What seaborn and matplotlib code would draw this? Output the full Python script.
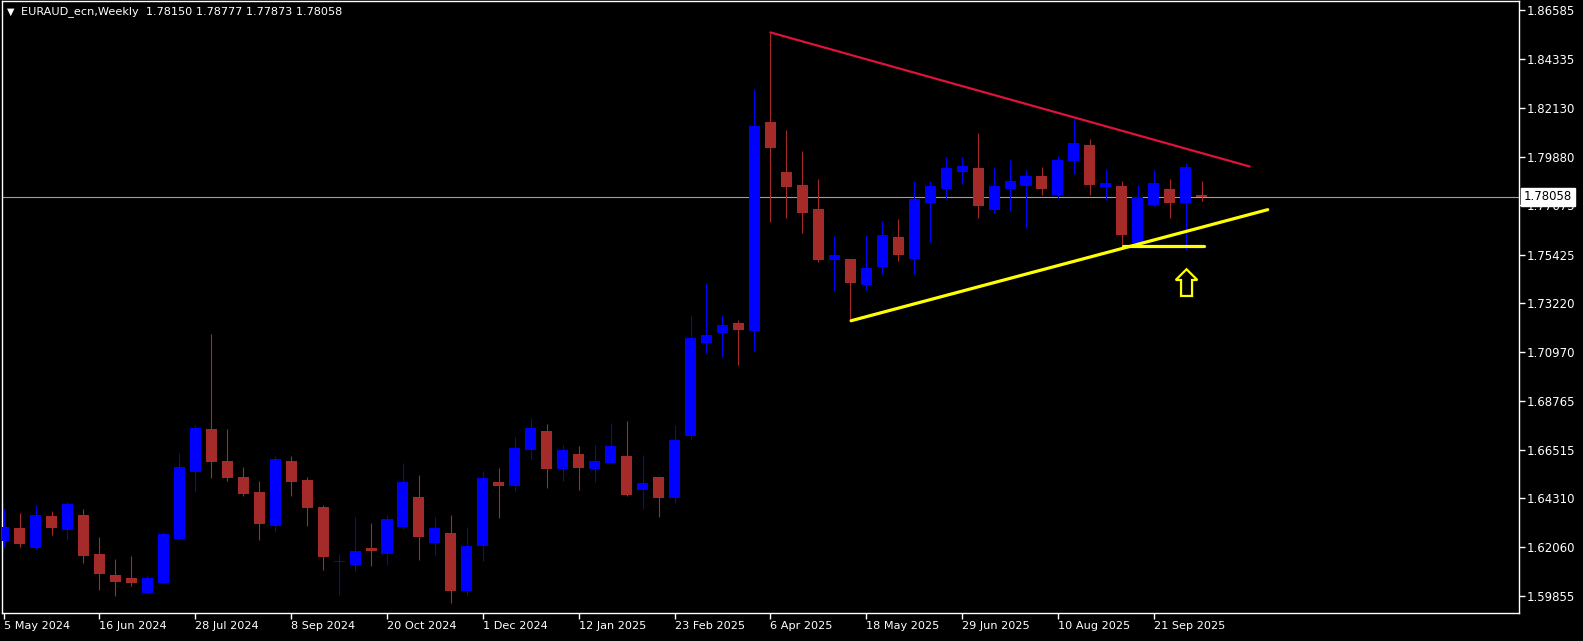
import numpy as np
import pandas as pd
import matplotlib
matplotlib.use("Agg")
import matplotlib.pyplot as plt
import matplotlib.transforms as mtransforms
from matplotlib.patches import Polygon
import seaborn as sns

# EURAUD weekly bars, 5 May 2024 .. 12 Oct 2025
opens = [1.6236, 1.6295, 1.6205, 1.6350, 1.6287, 1.6354, 1.6176, 1.6080, 1.6067, 1.6000,
         1.6045, 1.6245, 1.6552, 1.6747, 1.6601, 1.6528, 1.6459, 1.6306, 1.6601, 1.6514,
         1.6391, 1.6140, 1.6126, 1.6204, 1.6178, 1.6300, 1.6437, 1.6227, 1.6272, 1.6007,
         1.6214, 1.6505, 1.6488, 1.6653, 1.6738, 1.6566, 1.6633, 1.6566, 1.6593, 1.6624,
         1.6470, 1.6528, 1.6433, 1.6716, 1.7141, 1.7187, 1.7229, 1.7195, 1.8148, 1.7920,
         1.7861, 1.7751, 1.7520, 1.7523, 1.7404, 1.7488, 1.7623, 1.7523, 1.7779, 1.7842,
         1.7922, 1.7938, 1.7748, 1.7842, 1.7858, 1.7902, 1.7815, 1.7970, 1.8043, 1.7852,
         1.7856, 1.7596, 1.7769, 1.7842, 1.7779, 1.78150]
highs = [1.6380, 1.6363, 1.6400, 1.6373, 1.6414, 1.6382, 1.6254, 1.6154, 1.6167, 1.6080,
         1.6277, 1.6637, 1.6765, 1.7180, 1.6747, 1.6573, 1.6510, 1.6624, 1.6624, 1.6526,
         1.6400, 1.6176, 1.6345, 1.6318, 1.6354, 1.6592, 1.6537, 1.6345, 1.6354, 1.6300,
         1.6555, 1.6569, 1.6710, 1.6797, 1.6770, 1.6674, 1.6669, 1.6674, 1.6774, 1.6783,
         1.6628, 1.6528, 1.6765, 1.7267, 1.7413, 1.7267, 1.7243, 1.8300, 1.8555, 1.8112,
         1.8016, 1.7888, 1.7628, 1.7523, 1.7632, 1.7696, 1.7705, 1.7879, 1.7879, 1.7988,
         1.7988, 1.8098, 1.7943, 1.7975, 1.7929, 1.7943, 1.7993, 1.8162, 1.8071, 1.7934,
         1.7879, 1.7861, 1.7929, 1.7888, 1.7961, 1.78777]
lows = [1.6210, 1.6210, 1.6199, 1.6263, 1.6242, 1.6137, 1.6014, 1.5986, 1.6032, 1.5999,
        1.6041, 1.6244, 1.6461, 1.6525, 1.6511, 1.6443, 1.6242, 1.6278, 1.6443, 1.6306,
        1.6105, 1.5991, 1.6100, 1.6123, 1.6126, 1.6290, 1.6149, 1.6172, 1.5953, 1.5991,
        1.6144, 1.6342, 1.6465, 1.6611, 1.6479, 1.6511, 1.6470, 1.6506, 1.6593, 1.6443,
        1.6383, 1.6347, 1.6411, 1.6701, 1.7095, 1.7077, 1.7040, 1.7104, 1.7693, 1.7711,
        1.7643, 1.7511, 1.7378, 1.7241, 1.7383, 1.7456, 1.7515, 1.7456, 1.7602, 1.7797,
        1.7867, 1.7712, 1.7734, 1.7744, 1.7666, 1.7817, 1.7801, 1.7911, 1.7815, 1.7794,
        1.7584, 1.7584, 1.7765, 1.7712, 1.7565, 1.77873]
closes = [1.6300, 1.6223, 1.6354, 1.6297, 1.6405, 1.6169, 1.6087, 1.6050, 1.6045, 1.6067,
          1.6268, 1.6573, 1.6753, 1.6598, 1.6525, 1.6452, 1.6315, 1.6610, 1.6506, 1.6388,
          1.6164, 1.6143, 1.6190, 1.6192, 1.6336, 1.6505, 1.6254, 1.6295, 1.6007, 1.6213,
          1.6523, 1.6488, 1.6660, 1.6751, 1.6566, 1.6651, 1.6570, 1.6601, 1.6669, 1.6447,
          1.6500, 1.6433, 1.6697, 1.7162, 1.7174, 1.7220, 1.7200, 1.8130, 1.8031, 1.7853,
          1.7734, 1.7520, 1.7541, 1.7415, 1.7482, 1.7632, 1.7543, 1.7797, 1.7856, 1.7938,
          1.7947, 1.7766, 1.7856, 1.7879, 1.7902, 1.7844, 1.7975, 1.8052, 1.7861, 1.7870,
          1.7632, 1.7806, 1.7870, 1.7779, 1.7943, 1.78058]

date_labels = ["5 May 2024", "16 Jun 2024", "28 Jul 2024", "8 Sep 2024", "20 Oct 2024",
               "1 Dec 2024", "12 Jan 2025", "23 Feb 2025", "6 Apr 2025", "18 May 2025",
               "29 Jun 2025", "10 Aug 2025", "21 Sep 2025"]
price_ticks = [1.59855, 1.62060, 1.64310, 1.66515, 1.68765, 1.70970, 1.73220,
               1.75425, 1.77675, 1.79880, 1.82130, 1.84335, 1.86585]
last_price = 1.78058
header = "EURAUD_ecn,Weekly  1.78150 1.78777 1.77873 1.78058"

# drawn objects, (bar index, price)
res_x, res_y = [48.0, 78.0], [1.8557, 1.7945]
sup_x, sup_y = [53.05, 79.13], [1.7241, 1.7748]
lvl_x, lvl_y = [70.05, 75.14], [1.7584, 1.7584]
arrow_bar = 74.05
arrow_top, arrow_neck, arrow_bottom = 1.7476, 1.7427, 1.7354

sns.set_style("dark")
plt.rcParams["font.family"] = ["DejaVu Sans"]

W, H = 1583, 641
fig = plt.figure(figsize=(W / 100, H / 100), dpi=100, facecolor="black")
ax = fig.add_axes([2 / W, 1 - 613 / H, (1518.5 - 2) / W, (613 - 1) / H])
ax.set_facecolor("black")

df = pd.DataFrame({"o": opens, "h": highs, "l": lows, "c": closes})
df["x"] = np.arange(len(df))
col = np.where(df["c"] >= df["o"], "#0000ff", "#a52a2a")

ax.vlines(df["x"], df["l"], df["h"], colors=col, lw=0.8, zorder=2)
ax.bar(df["x"], (df["c"] - df["o"]).abs().clip(lower=0.0004),
       bottom=df[["o", "c"]].min(axis=1), width=0.69, color=col, lw=0, zorder=3)

ax.axhline(last_price, color="#a0a0a0", lw=0.8, zorder=1)

sns.lineplot(x=res_x, y=res_y, color="#dc143c", lw=1.6, ax=ax, zorder=4)
sns.lineplot(x=sup_x, y=sup_y, color="#ffff00", lw=2.3, ax=ax, zorder=4)
sns.lineplot(x=lvl_x, y=lvl_y, color="#ffff00", lw=2.3, ax=ax, zorder=4)

hw, sw = 0.676, 0.344
arrow_pts = [(arrow_bar, arrow_top), (arrow_bar + hw, arrow_neck), (arrow_bar + sw, arrow_neck),
             (arrow_bar + sw, arrow_bottom), (arrow_bar - sw, arrow_bottom),
             (arrow_bar - sw, arrow_neck), (arrow_bar - hw, arrow_neck)]
ax.add_patch(Polygon(arrow_pts, closed=True, fill=False, ec="#ffff00", lw=1.6, zorder=5))

ax.set_xlim(-0.1, 94.83)
ax.set_ylim(1.59070, 1.87004)
ax.grid(False)

ax.set_xticks(np.arange(len(date_labels)) * 6)
ax.set_xticklabels(date_labels)
plt.setp(ax.get_xticklabels(), ha="left")
ax.tick_params(axis="x", colors="white", length=4, width=1, labelsize=8.1, pad=2, bottom=True)

ax.yaxis.tick_right()
ax.set_yticks(price_ticks)
ax.set_yticklabels([f"{p:.5f}" for p in price_ticks])
ax.tick_params(axis="y", colors="white", length=4, width=1, labelsize=8.5, pad=2, right=True)

for s in ax.spines.values():
    s.set_color("white")
    s.set_linewidth(1)

ax.set_xlabel("")
ax.set_ylabel("")

trans = mtransforms.blended_transform_factory(ax.transAxes, ax.transData)
ax.text(1.0035, last_price, "1.78058", transform=trans, ha="left", va="center",
        color="black", fontsize=8.5, zorder=10, clip_on=False,
        bbox=dict(boxstyle="square,pad=0.22", fc="white", ec="white"))

ax.text(0.0060, 0.982, "\u25bc", transform=ax.transAxes, ha="center", va="center",
        color="white", fontsize=7)
ax.text(0.0123, 0.982, header, transform=ax.transAxes, ha="left", va="center",
        color="white", fontsize=8.1)

fig.savefig("out.png", dpi=100, facecolor="black")
